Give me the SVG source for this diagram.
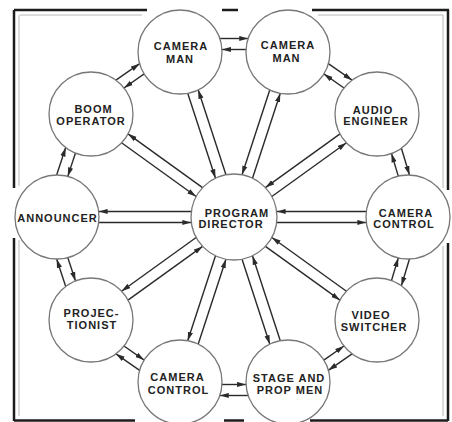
<svg xmlns="http://www.w3.org/2000/svg" width="452" height="422" viewBox="0 0 452 422">
<style>
.fr{stroke:#1c1c1c;stroke-width:2.5;fill:none}
.fi{stroke:#b8b8b8;stroke-width:1;fill:none}
.c line{stroke:#2a2a2a;stroke-width:1.4;fill:none;marker-end:url(#ah)}
.n circle{fill:#fff;stroke:#777;stroke-width:1.3}
.n text{font-family:"Liberation Sans",Arial,sans-serif;font-weight:bold;font-size:11px;letter-spacing:1px;fill:#222;text-anchor:middle}
</style>
<defs>
<marker id="ah" viewBox="0 -3 9 6" refX="9" refY="0" markerWidth="9" markerHeight="6" markerUnits="userSpaceOnUse" orient="auto">
<path d="M0,-2.6 L9,0 L0,2.6 z" fill="#2a2a2a"/>
</marker>
</defs>
<rect width="452" height="422" fill="#fff"/>
<g id="frame">
<path class="fr" d="M14,10H147M222,10H238M312,10H449M14,10V188M14,238V421M448,10V190M448,243V421M14,420.5H135M224,420.5H244M310,420.5H448"/>
<path class="fi" d="M20,15H142M318,15H443M19,15V186M19,240V416M443,15V188M443,246V416"/>
</g>
<g id="connectors" class="c">
<g transform="translate(180,52) rotate(71.88)"><line x1="41.6" y1="5.5" x2="130.95" y2="5.5"/><line x1="130.95" y1="-5.5" x2="41.6" y2="-5.5"/></g>
<g transform="translate(288,52) rotate(108.12)"><line x1="41.6" y1="5.5" x2="130.95" y2="5.5"/><line x1="130.95" y1="-5.5" x2="41.6" y2="-5.5"/></g>
<g transform="translate(377,114) rotate(144.23)"><line x1="41.6" y1="5.5" x2="133.55" y2="5.5"/><line x1="133.55" y1="-5.5" x2="41.6" y2="-5.5"/></g>
<g transform="translate(408,217) rotate(180)"><line x1="41.6" y1="5.5" x2="131.35" y2="5.5"/><line x1="131.35" y1="-5.5" x2="41.6" y2="-5.5"/></g>
<g transform="translate(377,320) rotate(-144.23)"><line x1="41.6" y1="5.5" x2="133.55" y2="5.5"/><line x1="133.55" y1="-5.5" x2="41.6" y2="-5.5"/></g>
<g transform="translate(288,382) rotate(-108.12)"><line x1="41.6" y1="5.5" x2="130.95" y2="5.5"/><line x1="130.95" y1="-5.5" x2="41.6" y2="-5.5"/></g>
<g transform="translate(180,382) rotate(-71.88)"><line x1="41.6" y1="5.5" x2="130.95" y2="5.5"/><line x1="130.95" y1="-5.5" x2="41.6" y2="-5.5"/></g>
<g transform="translate(91,320) rotate(-35.77)"><line x1="41.6" y1="5.5" x2="133.55" y2="5.5"/><line x1="133.55" y1="-5.5" x2="41.6" y2="-5.5"/></g>
<g transform="translate(57,217)"><line x1="41.6" y1="5.5" x2="134.35" y2="5.5"/><line x1="134.35" y1="-5.5" x2="41.6" y2="-5.5"/></g>
<g transform="translate(91,114) rotate(35.77)"><line x1="41.6" y1="5.5" x2="133.55" y2="5.5"/><line x1="133.55" y1="-5.5" x2="41.6" y2="-5.5"/></g>
<g transform="translate(180,52)"><line x1="39.77" y1="-13.5" x2="68.23" y2="-13.5"/><line x1="66.07" y1="-2.5" x2="41.93" y2="-2.5"/></g>
<g transform="translate(288,52) rotate(34.86)"><line x1="39.77" y1="-13.5" x2="68.7" y2="-13.5"/><line x1="66.54" y1="-2.5" x2="41.93" y2="-2.5"/></g>
<g transform="translate(377,114) rotate(73.25)"><line x1="39.77" y1="-13.5" x2="67.79" y2="-13.5"/><line x1="65.63" y1="-2.5" x2="41.93" y2="-2.5"/></g>
<g transform="translate(408,217) rotate(106.75)"><line x1="39.77" y1="-13.5" x2="67.79" y2="-13.5"/><line x1="65.63" y1="-2.5" x2="41.93" y2="-2.5"/></g>
<g transform="translate(377,320) rotate(145.14)"><line x1="39.77" y1="-13.5" x2="68.7" y2="-13.5"/><line x1="66.54" y1="-2.5" x2="41.93" y2="-2.5"/></g>
<g transform="translate(288,382) rotate(180)"><line x1="39.77" y1="-13.5" x2="68.23" y2="-13.5"/><line x1="66.07" y1="-2.5" x2="41.93" y2="-2.5"/></g>
<g transform="translate(180,382) rotate(-145.14)"><line x1="39.77" y1="-13.5" x2="68.7" y2="-13.5"/><line x1="66.54" y1="-2.5" x2="41.93" y2="-2.5"/></g>
<g transform="translate(91,320) rotate(-108.26)"><line x1="39.77" y1="-13.5" x2="68.7" y2="-13.5"/><line x1="66.54" y1="-2.5" x2="41.93" y2="-2.5"/></g>
<g transform="translate(57,217) rotate(-71.74)"><line x1="39.77" y1="-13.5" x2="68.7" y2="-13.5"/><line x1="66.54" y1="-2.5" x2="41.93" y2="-2.5"/></g>
<g transform="translate(91,114) rotate(-34.86)"><line x1="39.77" y1="-13.5" x2="68.7" y2="-13.5"/><line x1="66.54" y1="-2.5" x2="41.93" y2="-2.5"/></g>
</g>
<g id="program-director" class="n"><circle cx="234" cy="217" r="43"/><text x="237" y="217">PROGRAM</text><text x="231" y="228">DIRECTOR</text></g>
<g id="camera-man-1" class="n"><circle cx="180" cy="52" r="42"/><text x="181" y="50">CAMERA</text><text x="180" y="63">MAN</text></g>
<g id="camera-man-2" class="n"><circle cx="288" cy="52" r="42"/><text x="288" y="49">CAMERA</text><text x="286.5" y="62">MAN</text></g>
<g id="audio-engineer" class="n"><circle cx="377" cy="114" r="42"/><text x="373" y="113.5">AUDIO</text><text x="376" y="125">ENGINEER</text></g>
<g id="camera-control-1" class="n"><circle cx="408" cy="217" r="42"/><text x="406" y="217">CAMERA</text><text x="404" y="228">CONTROL</text></g>
<g id="video-switcher" class="n"><circle cx="377" cy="320" r="42"/><text x="371" y="319">VIDEO</text><text x="374" y="331">SWITCHER</text></g>
<g id="stage-and-prop-men" class="n"><circle cx="288" cy="382" r="42"/><text x="289" y="382">STAGE AND</text><text x="290" y="394">PROP MEN</text></g>
<g id="camera-control-2" class="n"><circle cx="180" cy="382" r="42"/><text x="177.5" y="381">CAMERA</text><text x="178.5" y="394">CONTROL</text></g>
<g id="projectionist" class="n"><circle cx="91" cy="320" r="42"/><text x="91.5" y="317">PROJEC-</text><text x="92" y="329">TIONIST</text></g>
<g id="announcer" class="n"><circle cx="57" cy="217" r="42"/><text x="57.5" y="221.5">ANNOUNCER</text></g>
<g id="boom-operator" class="n"><circle cx="91" cy="114" r="42"/><text x="93.5" y="113">BOOM</text><text x="91" y="124.5">OPERATOR</text></g>
</svg>
